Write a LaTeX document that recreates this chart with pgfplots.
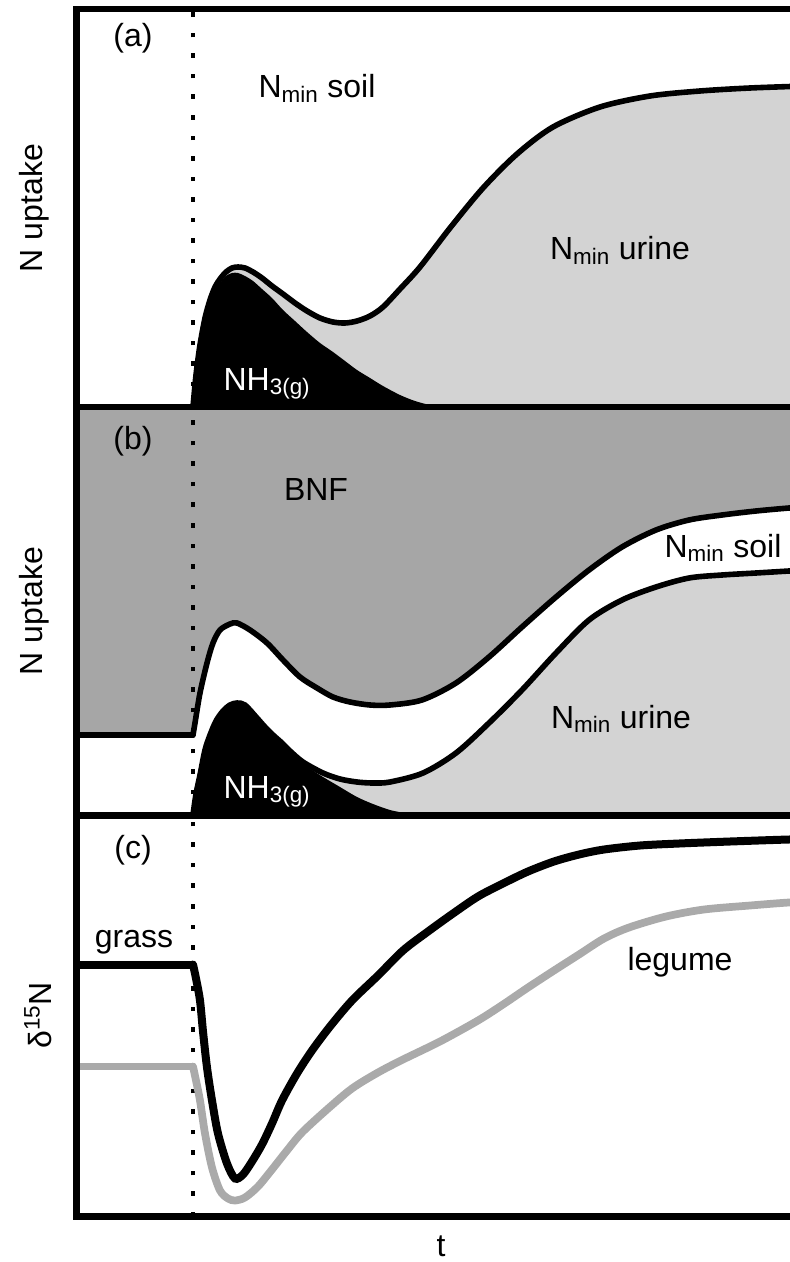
\documentclass[border=0pt]{standalone}
\usepackage{pgfplots}
\usepackage{pgfplotstable}
\pgfplotsset{compat=1.18}
\usepackage{fontspec}
\setmainfont{Liberation Sans}

\definecolor{urinegray}{RGB}{211,211,211}
\definecolor{bnfgray}{RGB}{166,166,166}
\definecolor{legumegray}{RGB}{170,170,170}

% all x values are in image pixels, y = height above the panel's bottom line
\pgfplotstableread{
x y
193 0
196 32
200 62
205 89
210 107
215 120
220 128
226 135
232 139
238 140
245 139
253 135
262 129
272 121
283 113
295 104
307 96
320 89
333 85
345 84
357 86
370 91
383 100
400 118
420 140
450 179
483 219
517 253
553 280
600 300
650 311
700 316
750 319
806 321
}\aTotal

\pgfplotstableread{
x y
193 0
196 29
200 59
205 86
210 104
215 116
220 124
226 131
232 134
238 134
245 131
253 126
262 118
272 109
283 97
295 86
307 75
320 64
333 55
345 46
357 37
370 29
383 21
400 12
415 6
430 2
445 0
}\aNH

\pgfplotstableread{
x y
193 80
195 92
200 122
207 152
213 172
220 185
230 191
237 192
250 185
267 172
283 155
300 138
317 127
333 118
350 113
370 110
390 110
422 115
456 132
489 158
522 188
556 218
589 245
622 268
656 285
689 295
722 300
756 304
789 307
806 308
}\bBNF

\pgfplotstableread{
x y
193 0
196 21
200 40
205 65
210 80
216 94
223 104
230 110
237 112
245 110
257 97
265 88
273 80
282 72
290 64
303 53
323 42
340 36
357 33
373 32
390 33
423 42
456 62
489 92
522 125
556 162
589 195
622 215
656 228
689 237
722 240
756 242
789 244
806 245
}\bUrine

\pgfplotstableread{
x y
193 0
196 19
200 38
205 63
210 78
216 92
223 102
230 108
237 110
245 108
257 95
265 86
273 78
282 70
290 62
303 51
315 43
323 38
340 28
357 18
373 11
390 5
405 2
420 0
}\bNH

\pgfplotstableread{
x y
193 252
196 238
200 216
203 185
207 149
212 116
218 83
227 53
235 38
243 42
252 55
262 72
272 93
282 116
297 143
312 166
330 190
352 216
378 241
403 266
428 285
453 303
478 320
503 333
528 345
554 355
579 362
604 367
640 371
679 373
730 375
789 377
806 377
}\cGrass

\pgfplotstableread{
x y
193 150
196 136
200 116
205 83
212 49
220 26
228 18
235 16
245 19
258 30
272 47
287 66
302 84
327 107
352 128
378 144
403 157
440 175
478 196
503 212
528 229
554 246
579 262
604 278
629 289
666 300
704 307
750 311
789 314
806 314
}\cLegume

\pgfplotsset{
  panel/.style={
    x=0.75pt, y=0.75pt,
    xmin=76.3, xmax=806, ymin=0,
    anchor=south west,
    axis on top,
    xtick=\empty, ytick=\empty,
    axis line style={line width=4.8pt},
    clip mode=individual,
    every node/.append style={font=\fontsize{24}{28}\selectfont},
  },
  dots/.style={black, line width=3.4pt, dash pattern=on 3.4pt off 12pt},
}

\begin{document}
\fontsize{24}{28}\selectfont
\begin{tikzpicture}[font=\fontsize{24}{28}\selectfont]

% (a)
\begin{axis}[panel, ymax=397.7, at={(57.225pt,-305.25pt)}]
\addplot[smooth, fill=urinegray, draw=none] table {\aTotal} \closedcycle;
\addplot[smooth, fill=black, draw=none] table {\aNH} \closedcycle;
\addplot[dots] coordinates {(193,0) (193,397.7)};
\addplot[smooth, black, line width=4.2pt] table {\aTotal};
\node at (axis cs:133,368.5) {(a)};
\node[anchor=base] at (axis cs:317,309) {N\textsubscript{min} soil};
\node[anchor=base] at (axis cs:620,147) {N\textsubscript{min} urine};
\node[anchor=base, text=white] at (axis cs:267,17) {NH\textsubscript{3(g)}};
\node[rotate=90] at (axis cs:34,199) {N uptake};
\end{axis}

% (b)
\begin{axis}[panel, ymax=408, at={(57.225pt,-611.25pt)},
  axis background/.style={fill=bnfgray}]
\addplot[fill=white, draw=none] coordinates {(70,0) (70,80) (193,80) (193,0)} \closedcycle;
\addplot[smooth, fill=white, draw=none] table {\bBNF} \closedcycle;
\addplot[smooth, fill=urinegray, draw=none] table {\bUrine} \closedcycle;
\addplot[smooth, fill=black, draw=none] table {\bNH} \closedcycle;
\addplot[dots] coordinates {(193,0) (193,408)};
\addplot[black, line width=4.2pt, line cap=round] coordinates {(70,80) (193,80)};
\addplot[smooth, black, line width=4.2pt, line cap=round] table {\bBNF};
\addplot[smooth, black, line width=4.2pt] table {\bUrine};
\node at (axis cs:133,374) {(b)};
\node[anchor=base] at (axis cs:316,315) {BNF};
\node[anchor=base] at (axis cs:723,258) {N\textsubscript{min} soil};
\node[anchor=base] at (axis cs:621,87) {N\textsubscript{min} urine};
\node[anchor=base, text=white] at (axis cs:267,17) {NH\textsubscript{3(g)}};
\node[rotate=90] at (axis cs:34,204) {N uptake};
\end{axis}

% (c)
\begin{axis}[panel, ymax=401.2, at={(57.225pt,-912.375pt)}]
\addplot[dots] coordinates {(193,0) (193,401.2)};
\addplot[legumegray, line width=5.8pt] coordinates {(70,150) (193,150)};
\addplot[smooth, legumegray, line width=5.8pt, line cap=round] table {\cLegume};
\addplot[black, line width=6pt] coordinates {(70,252) (193,252)};
\addplot[smooth, black, line width=6pt, line cap=round] table {\cGrass};
\node at (axis cs:133,366.5) {(c)};
\node[anchor=base] at (axis cs:134,269) {grass};
\node[anchor=base] at (axis cs:680,246) {legume};
\node[rotate=90] at (axis cs:38,201) {δ\textsuperscript{15}N};
\node[anchor=base, inner sep=0pt] at (axis cs:441,-40) {t};
\end{axis}

\pgfresetboundingbox
\useasboundingbox (0,0) rectangle (591.75pt,-946.5pt);
\end{tikzpicture}
\end{document}
